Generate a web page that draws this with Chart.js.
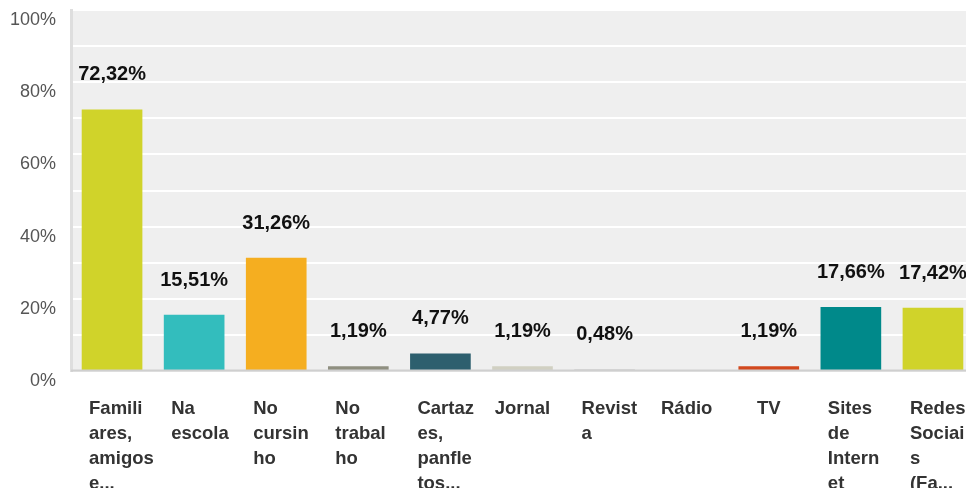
<!DOCTYPE html>
<html>
<head>
<meta charset="utf-8">
<script src="https://cdn.jsdelivr.net/npm/chart.js@4.4.1/dist/chart.umd.min.js"></script>
<style>
  html, body { margin: 0; padding: 0; background: #ffffff; overflow: hidden; }
  #wrap { width: 974px; height: 488px; }
</style>
</head>
<body>
<div id="wrap"><canvas id="c" width="974" height="488"></canvas></div>
<script>
const categories = [
  ["Famili", "ares,", "amigos", "e..."],
  ["Na", "escola"],
  ["No", "cursin", "ho"],
  ["No", "trabal", "ho"],
  ["Cartaz", "es,", "panfle", "tos..."],
  ["Jornal"],
  ["Revist", "a"],
  ["Rádio"],
  ["TV"],
  ["Sites", "de", "Intern", "et"],
  ["Redes", "Sociai", "s", "(Fa..."]
];
const values = [72.32, 15.51, 31.26, 1.19, 4.77, 1.19, 0.48, 0, 1.19, 17.66, 17.42];
const barColors = ["#d0d32a", "#33bdbd", "#f5ae20", "#8f8f80", "#2d5f6e", "#d1d0c2", "#d6d6d6", "#cccccc", "#d2481e", "#00898a", "#d0d32a"];
const yTickValues = [0, 20, 40, 60, 80, 100];

const FONT = "'Liberation Sans', Arial, Helvetica, sans-serif";

const plotBg = {
  id: 'plotBg',
  beforeDraw(chart) {
    const {ctx, chartArea: a} = chart;
    ctx.save();
    ctx.fillStyle = '#efefef';
    ctx.fillRect(a.left, a.top, a.right - a.left, a.bottom - a.top);
    ctx.restore();
    // single-line category labels are centred under their bar; wrapped ones stay left-aligned
    const s = chart.scales.x;
    const items = s.getLabelItems(a);
    items.forEach((it, i) => {
      if (Array.isArray(it.label) && it.label.length === 1) {
        it.options.textAlign = 'center';
        it.options.translation = [s.getPixelForTick(i), it.options.translation[1]];
      }
    });
  }
};

const overlay = {
  id: 'overlay',
  afterDatasetsDraw(chart) {
    const {ctx, chartArea: a} = chart;
    ctx.save();
    ctx.fillStyle = '#cfcfcf';
    ctx.fillRect(a.left, a.bottom - 1.5, a.right - a.left, 2.2);
    const meta = chart.getDatasetMeta(0);
    ctx.font = 'bold 20px ' + FONT;
    ctx.fillStyle = '#111111';
    ctx.textAlign = 'center';
    ctx.textBaseline = 'middle';
    meta.data.forEach((bar, i) => {
      const v = values[i];
      if (!v) return;
      const txt = v.toFixed(2).replace('.', ',') + '%';
      ctx.fillText(txt, bar.x, bar.y - 35);
    });
    ctx.restore();
  }
};

new Chart(document.getElementById('c'), {
  type: 'bar',
  data: {
    labels: categories,
    datasets: [{
      data: values,
      backgroundColor: barColors,
      borderWidth: 0,
      barThickness: 60
    }]
  },
  options: {
    responsive: false,
    animation: false,
    layout: { padding: 0 },
    plugins: { legend: { display: false }, tooltip: { enabled: false } },
    scales: {
      x: {
        grid: { display: false, drawTicks: false },
        border: { display: false },
        ticks: {
          autoSkip: false,
          maxRotation: 0,
          minRotation: 0,
          align: 'start',
          labelOffset: -23,
          padding: 25,
          color: '#333333',
          font: { family: FONT, size: 18.5, weight: 'bold', lineHeight: '25px' }
        },
        afterFit(s) { s.height = 117; s.paddingLeft = 0; s.paddingRight = 0; }
      },
      y: {
        min: 0,
        max: 100,
        grid: { color: '#ffffff', lineWidth: 2, drawTicks: false },
        border: { display: true, color: '#dedede', width: 3 },
        ticks: {
          stepSize: 10,
          padding: 15,
          labelOffset: 10,
          color: '#555555',
          font: { family: FONT, size: 18 },
          callback: (v) => yTickValues.includes(v) ? v + '%' : ''
        },
        afterFit(s) { s.width = 71; s.paddingTop = 10; s.paddingBottom = 0; }
      }
    }
  },
  plugins: [plotBg, overlay]
});
</script>
</body>
</html>
